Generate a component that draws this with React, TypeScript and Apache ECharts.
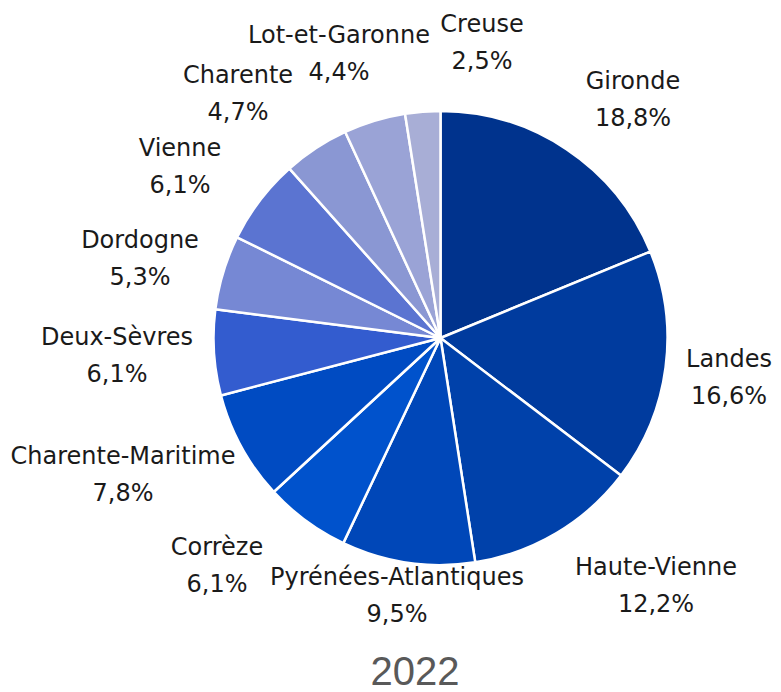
import React, { useEffect, useRef } from "react";
import * as echarts from "echarts";

const categories = [
  "Gironde",
  "Landes",
  "Haute-Vienne",
  "Pyrénées-Atlantiques",
  "Corrèze",
  "Charente-Maritime",
  "Deux-Sèvres",
  "Dordogne",
  "Vienne",
  "Charente",
  "Lot-et-Garonne",
  "Creuse",
];
const shares = [18.8, 16.6, 12.2, 9.5, 6.1, 7.8, 6.1, 5.3, 6.1, 4.7, 4.4, 2.5];
const colors = [
  "#00338D",
  "#003B9E",
  "#0041AA",
  "#0047B8",
  "#0052CC",
  "#004BC2",
  "#335CCF",
  "#7688D4",
  "#5B74D1",
  "#8A97D3",
  "#9AA3D6",
  "#A8AED6",
];
const title = "2022";

// layout (not data): pie centre/radius and label block centres
const CX = 440.5;
const CY = 338;
const R = 227;
const labelCenters: [number, number][] = [
  [633, 99],
  [729, 377],
  [656, 585],
  [397, 595],
  [217, 565],
  [123, 474],
  [117, 355],
  [140, 258],
  [180, 166],
  [238, 93],
  [339, 53],
  [482, 42],
];

const fmt = (v: number) => v.toFixed(1).replace(".", ",") + "%";

export default function App() {
  const ref = useRef<HTMLDivElement>(null);
  useEffect(() => {
    if (!ref.current) return;
    const chart = echarts.init(ref.current, undefined, { renderer: "svg" });
    chart.setOption({
      animation: false,
      backgroundColor: "#ffffff",
      graphic: [
        {
          type: "text",
          x: 415,
          y: 671,
          style: {
            text: title,
            fontFamily: "Liberation Sans, Arial, sans-serif",
            fontSize: 40,
            lineHeight: 38,
            fill: "#595959",
            align: "center",
            verticalAlign: "middle",
          },
        },
      ],
      series: [
        {
          type: "pie",
          center: [CX, CY],
          radius: [0, R],
          startAngle: 90,
          clockwise: true,
          avoidLabelOverlap: false,
          itemStyle: { borderColor: "#ffffff", borderWidth: 2.5 },
          emphasis: { disabled: true },
          label: {
            show: true,
            position: "outside",
            formatter: (p: any) => `${p.name}\n${fmt(p.value)}`,
            fontFamily: "DejaVu Sans, sans-serif",
            fontSize: 24,
            lineHeight: 37,
            color: "#1a1a1a",
          },
          labelLine: { show: false },
          labelLayout: (params: any) => {
            const c = labelCenters[params.dataIndex];
            return { x: c[0], y: c[1], align: "center", verticalAlign: "middle" };
          },
          data: categories.map((name, i) => ({
            name,
            value: shares[i],
            itemStyle: { color: colors[i] },
          })),
        },
      ],
    });
    return () => chart.dispose();
  }, []);
  return (
    <div
      ref={ref}
      style={{ position: "fixed", left: 0, top: 0, width: 781, height: 692 }}
    />
  );
}
